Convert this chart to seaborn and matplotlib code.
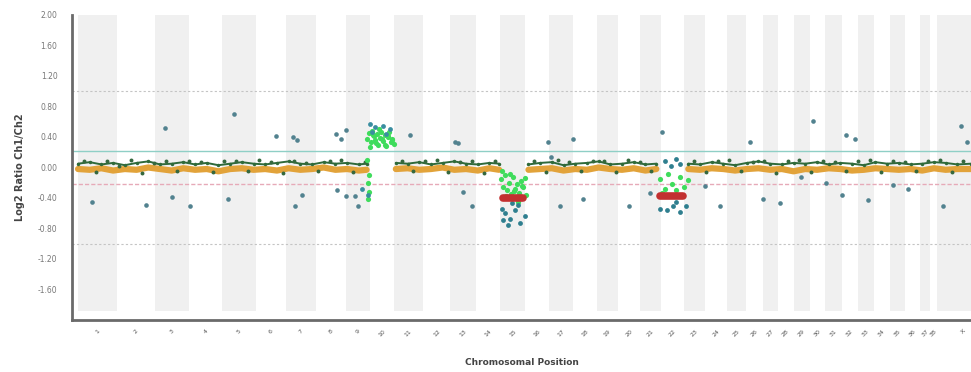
import numpy as np
import pandas as pd
import matplotlib
matplotlib.use("Agg")
import matplotlib.pyplot as plt
import seaborn as sns

# ---------------- data ----------------
chrom_names = [str(i) for i in range(1, 39)] + ["X"]
chrom_len = [101, 96, 87, 86, 86, 77, 77, 77, 62, 62, 73, 71, 65, 63, 63, 62, 62, 60, 55, 55,
             56, 58, 55, 54, 51, 42, 38, 41, 41, 40, 42, 41, 41, 41, 40, 38, 26, 18, 133]

y_ticks = [2.0, 1.6, 1.2, 0.8, 0.4, 0.0, -0.4, -0.8, -1.2, -1.6]

# baseline trace (moving average, orange) and probe trace (dark green), per segment
base_seg = ([0] * 26) + ([1] * 10) + ([2] * 12) + ([3] * 25)
base_x = [0, 30, 60, 90, 120, 150, 180, 210, 240, 270, 300, 330, 360, 390, 420, 450, 480, 510, 540, 570,
          600, 630, 660, 690, 720, 740,
          815, 845, 875, 905, 935, 965, 995, 1025, 1055, 1080,
          1155, 1185, 1215, 1245, 1275, 1305, 1335, 1365, 1395, 1425, 1455, 1483,
          1565, 1595, 1625, 1655, 1685, 1715, 1745, 1775, 1805, 1835, 1865, 1895, 1925, 1955, 1985, 2015,
          2045, 2075, 2105, 2135, 2165, 2195, 2225, 2255, 2290]
base_orange = [-0.02, -0.03, -0.01, -0.04, -0.02, -0.03, 0.00, -0.02, -0.04, -0.01, -0.03, -0.02, -0.05,
               -0.02, -0.01, -0.03, -0.02, -0.04, -0.01, -0.03, -0.02, 0.00, -0.03, -0.02, -0.04, -0.03,
               -0.02, -0.01, -0.03, -0.02, 0.00, -0.03, -0.02, -0.04, -0.01, -0.03,
               -0.03, -0.02, -0.01, -0.04, -0.02, -0.03, 0.00, -0.02, -0.03, -0.01, -0.04, -0.02,
               -0.02, -0.03, -0.01, -0.02, -0.04, -0.02, -0.01, -0.03, -0.02, -0.05, -0.02, -0.03, -0.01,
               -0.02, -0.04, -0.03, -0.01, -0.02, -0.03, -0.02, -0.04, -0.01, -0.03, -0.02, -0.02]
base_green = [0.05, 0.07, 0.04, 0.06, 0.03, 0.06, 0.08, 0.04, 0.05, 0.07, 0.04, 0.06, 0.03, 0.05, 0.07,
              0.05, 0.04, 0.06, 0.08, 0.05, 0.04, 0.07, 0.05, 0.06, 0.04, 0.05,
              0.06, 0.05, 0.07, 0.04, 0.06, 0.08, 0.05, 0.04, 0.06, 0.05,
              0.04, 0.06, 0.07, 0.03, 0.05, 0.06, 0.08, 0.04, 0.05, 0.07, 0.04, 0.05,
              0.05, 0.04, 0.07, 0.05, 0.03, 0.06, 0.08, 0.05, 0.04, 0.06, 0.05, 0.07, 0.04, 0.06, 0.05,
              0.03, 0.07, 0.05, 0.06, 0.04, 0.05, 0.07, 0.06, 0.04, 0.05]

# extra baseline probes (dark green dots above / below the moving average)
probe_x = [15, 45, 75, 105, 135, 165, 195, 225, 255, 285, 315, 345, 375, 405, 435, 465, 495, 525, 555, 585,
           615, 645, 675, 705, 735,
           830, 860, 890, 920, 950, 980, 1010, 1040, 1070,
           1170, 1200, 1230, 1260, 1290, 1320, 1350, 1380, 1410, 1440, 1470,
           1580, 1610, 1640, 1670, 1700, 1730, 1760, 1790, 1820, 1850, 1880, 1910, 1940, 1970, 2000, 2030,
           2060, 2090, 2120, 2150, 2180, 2210, 2240, 2270]
probe_y = [0.09, -0.06, 0.08, 0.02, 0.10, -0.07, 0.06, 0.09, -0.05, 0.08, 0.07, -0.06, 0.09, 0.08, -0.05,
           0.10, 0.07, -0.07, 0.09, 0.06, -0.05, 0.08, 0.10, -0.06, 0.07,
           0.09, -0.05, 0.08, 0.10, -0.06, 0.07, 0.09, -0.07, 0.08,
           0.08, -0.06, 0.10, 0.07, -0.05, 0.09, 0.08, -0.06, 0.10, 0.07, -0.05,
           0.09, -0.06, 0.08, 0.10, -0.05, 0.07, 0.09, -0.07, 0.08, 0.10, -0.06, 0.09, 0.07, -0.05, 0.08,
           0.10, -0.06, 0.09, 0.07, -0.05, 0.08, 0.10, -0.06, 0.09]

# scattered outlier probes
out_x = [36, 174, 223, 241, 287, 385, 400, 508, 551, 562, 556, 574, 662, 674, 687, 664, 687, 710, 718,
         851, 967, 974, 987, 1010, 1205, 1213, 1236, 1269, 1295, 1413, 1467, 1497, 1608, 1646, 1723,
         1756, 1800, 1885, 1969, 1992, 1918, 1959, 2026, 2090, 2128, 2218, 2264, 2279, 1854]
out_y = [-0.45, -0.49, 0.52, -0.39, -0.50, -0.41, 0.70, 0.41, 0.40, 0.36, -0.50, -0.36, 0.44, 0.37, 0.49,
         -0.30, -0.38, -0.37, -0.51, 0.43, 0.33, 0.32, -0.32, -0.51, 0.33, 0.14, -0.51, 0.37, -0.41,
         -0.50, -0.34, 0.46, -0.24, -0.51, 0.33, -0.41, -0.47, 0.61, 0.43, 0.37, -0.20, -0.36, -0.43,
         -0.23, -0.28, -0.50, 0.54, 0.33, -0.12]

# gain (chr 9/10)
gain_x = [742, 746, 750, 754, 758, 762, 766, 770, 774, 778, 782, 786, 790, 794, 798, 802, 806, 810,
          748, 756, 764, 772, 780, 788, 796, 804, 743, 745, 744, 746, 742]
gain_y = [0.38, 0.45, 0.33, 0.48, 0.41, 0.36, 0.44, 0.30, 0.39, 0.47, 0.35, 0.42, 0.28, 0.40, 0.46, 0.34,
          0.37, 0.31, 0.27, 0.43, 0.32, 0.50, 0.38, 0.29, 0.41, 0.36, -0.20, -0.32, -0.41, -0.10, 0.10]
gain_teal_x = [749, 762, 782, 800, 790, 754, 728, 744]
gain_teal_y = [0.57, 0.53, 0.54, 0.50, 0.44, 0.46, -0.28, -0.36]

# loss 1 (chr 15)
loss1_x = [1085, 1090, 1095, 1100, 1105, 1110, 1115, 1120, 1125, 1130, 1135, 1140, 1145, 1088, 1098,
           1108, 1118, 1128, 1138, 1148]
loss1_y = [-0.15, -0.25, -0.10, -0.30, -0.20, -0.35, -0.12, -0.28, -0.22, -0.33, -0.18, -0.26, -0.14,
           -0.05, -0.38, -0.08, -0.31, -0.45, -0.24, -0.36]
loss1_teal_x = [1087, 1095, 1108, 1121, 1133, 1090, 1146, 1113, 1103, 1128]
loss1_teal_y = [-0.54, -0.60, -0.67, -0.56, -0.73, -0.69, -0.64, -0.47, -0.76, -0.49]

# loss 2 (chr 22)
loss2_x = [1492, 1505, 1513, 1523, 1533, 1544, 1554, 1497, 1564]
loss2_y = [-0.15, -0.28, -0.08, -0.21, -0.30, -0.12, -0.25, -0.34, -0.17]
loss2_teal_x = [1505, 1521, 1533, 1544, 1492, 1510, 1526, 1544, 1559, 1533]
loss2_teal_y = [0.09, 0.02, 0.11, 0.05, -0.54, -0.56, -0.51, -0.58, -0.51, -0.45]

# segment calls (red)
seg_id = ["a", "a", "b", "b"]
seg_x = [1090, 1142, 1492, 1551]
seg_y = [-0.40, -0.40, -0.38, -0.38]

upper_thr = 0.22
lower_thr = -0.22

# ---------------- plot ----------------
sns.set_style("white")
plt.rcParams["font.family"] = ["DejaVu Sans"]

fig = plt.figure(figsize=(9.71, 3.72), dpi=100)
ax = fig.add_axes([0.0742, 0.1398, 0.9258, 0.8199])

starts = np.concatenate([[0], np.cumsum(chrom_len)[:-1]])
ends = np.cumsum(chrom_len)
centers = (starts + ends) / 2

for i, (s, e) in enumerate(zip(starts, ends)):
    if i % 2 == 0:
        ax.axvspan(s, e, ymin=0.03, ymax=1.0, color="#f0f0f0", lw=0, zorder=0)

for yv in (1.0, -1.0):
    ax.axhline(yv, color="#c4c4c4", lw=0.8, ls=(0, (2, 2)), zorder=1)
ax.axhline(upper_thr, color="#8fcfc6", lw=1.0, zorder=1)
ax.axhline(lower_thr, color="#e6aab8", lw=1.0, ls=(0, (3, 1.5)), zorder=1)

base_df = pd.DataFrame({"x": base_x, "orange": base_orange, "green": base_green, "seg": base_seg})
sns.lineplot(data=base_df, x="x", y="orange", units="seg", estimator=None, sort=False,
             color="#e2a33a", lw=4.5, ax=ax, zorder=3)
sns.lineplot(data=base_df, x="x", y="green", units="seg", estimator=None, sort=False,
             color="#2f6a3a", lw=1.4, marker="o", markersize=2.5, markeredgewidth=0, ax=ax, zorder=4)
sns.scatterplot(x=probe_x, y=probe_y, color="#35683e", s=8, linewidth=0, ax=ax, zorder=4)

sns.scatterplot(x=out_x, y=out_y, color="#52828f", s=11, linewidth=0, ax=ax, zorder=5)

sns.scatterplot(x=gain_x, y=gain_y, color="#3fdc5c", s=14, linewidth=0, ax=ax, zorder=5)
sns.scatterplot(x=gain_teal_x, y=gain_teal_y, color="#3a8ea0", s=12, linewidth=0, ax=ax, zorder=6)

sns.scatterplot(x=loss1_x, y=loss1_y, color="#3fdc5c", s=14, linewidth=0, ax=ax, zorder=5)
sns.scatterplot(x=loss1_teal_x, y=loss1_teal_y, color="#2f7f8f", s=12, linewidth=0, ax=ax, zorder=6)
sns.scatterplot(x=loss2_x, y=loss2_y, color="#3fdc5c", s=14, linewidth=0, ax=ax, zorder=5)
sns.scatterplot(x=loss2_teal_x, y=loss2_teal_y, color="#2f7f8f", s=12, linewidth=0, ax=ax, zorder=6)

seg_df = pd.DataFrame({"x": seg_x, "y": seg_y, "id": seg_id})
sns.lineplot(data=seg_df, x="x", y="y", units="id", estimator=None, sort=False,
             color="#c23030", lw=5.5, ax=ax, zorder=7)

ax.set_xlim(-15.4, 2290)
ax.set_ylim(-2.0, 2.0)

ax.set_yticks(y_ticks)
ax.set_yticklabels([f"{v:.2f}" for v in y_ticks], fontsize=5.5, color="#777777")
ax.set_xticks(centers)
ax.set_xticklabels(chrom_names, fontsize=4.5, rotation=45, color="#555555")
ax.tick_params(axis="y", direction="inout", length=3, width=1, color="#555555", pad=9)
ax.tick_params(axis="x", length=0, pad=6)

for side in ("top", "right"):
    ax.spines[side].set_visible(False)
for side in ("left", "bottom"):
    ax.spines[side].set_color("#6a6a6a")
    ax.spines[side].set_linewidth(2)

ax.set_ylabel("Log2 Ratio Ch1/Ch2", fontsize=7, fontweight="bold", color="#444444")
ax.yaxis.set_label_coords(-0.052, 0.5)
ax.set_xlabel("Chromosomal Position", fontsize=6.5, fontweight="bold", color="#444444")
ax.xaxis.set_label_coords(0.5, -0.125)

fig.savefig("out.png", dpi=100)
